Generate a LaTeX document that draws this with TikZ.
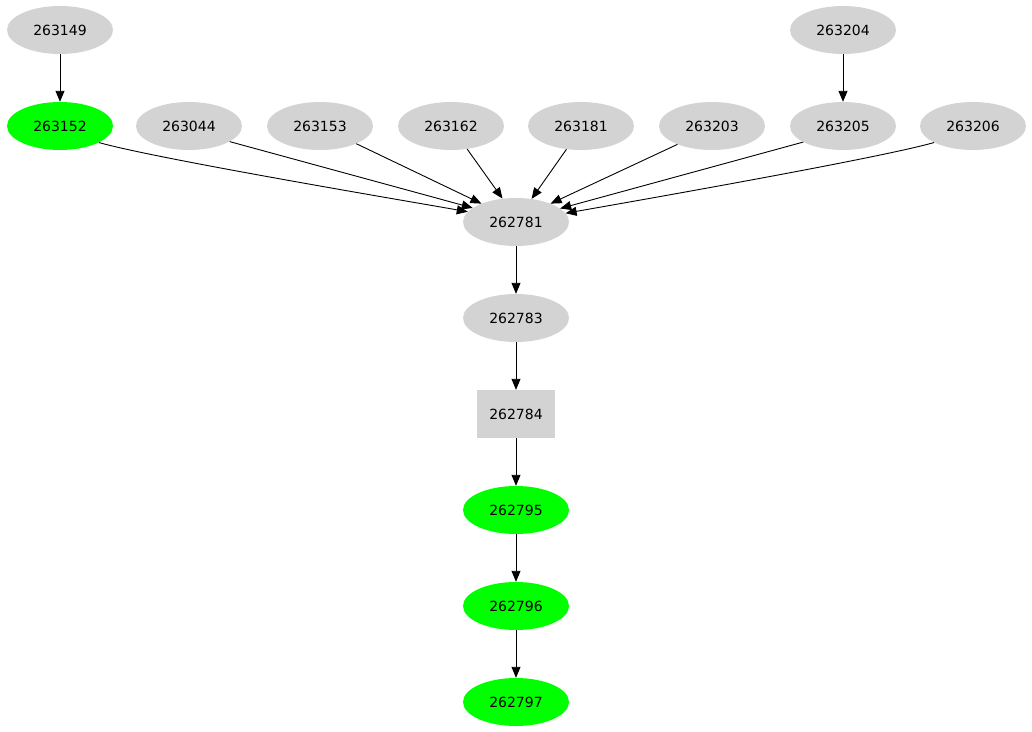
\documentclass[tikz,border=0pt]{standalone}
\usepackage{fontspec}
\setmainfont{DejaVu Sans}
\usetikzlibrary{shapes.geometric,arrows.meta}
\definecolor{gvgray}{HTML}{D3D3D3}
\definecolor{gvgreen}{HTML}{00FF00}
\begin{document}
\begin{tikzpicture}[x=1pt,y=-1pt,
  ell/.style={ellipse,fill=gvgray,draw=none,minimum width=106pt,minimum height=48pt,inner sep=0pt,font=\fontsize{14}{16}\selectfont},
  grn/.style={ell,fill=gvgreen},
  boxn/.style={rectangle,fill=gvgray,draw=none,minimum width=78pt,minimum height=48pt,inner sep=0pt,font=\fontsize{14}{16}\selectfont},
  edge/.style={draw=black,line width=0.9pt,-{Triangle[length=11pt,width=9pt]}}]
\useasboundingbox (0,0) rectangle (1032,731);
\node[ell] (a263149) at (60,30) {263149};
\node[ell] (a263204) at (843,30) {263204};
\node[grn] (a263152) at (60,126) {263152};
\node[ell] (a263044) at (189,126) {263044};
\node[ell] (a263153) at (320,126) {263153};
\node[ell] (a263162) at (451,126) {263162};
\node[ell] (a263181) at (581,126) {263181};
\node[ell] (a263203) at (712,126) {263203};
\node[ell] (a263205) at (843,126) {263205};
\node[ell] (a263206) at (973,126) {263206};
\node[ell] (a262781) at (516,222) {262781};
\node[ell] (a262783) at (516,318) {262783};
\node[boxn] (a262784) at (516,414) {262784};
\node[grn] (a262795) at (516,510) {262795};
\node[grn] (a262796) at (516,606) {262796};
\node[grn] (a262797) at (516,702) {262797};

\draw[edge] (a263149) -- (a263152);
\draw[edge] (a263204) -- (a263205);
\draw[edge] (a263152.-23) to[out=-16,in=170,looseness=0.4] (a262781.168);
\draw[edge] (a263044.-21) -- (a262781.162);
\draw[edge] (a263153.-26) -- (a262781.152);
\draw[edge] (a263162.-55) -- (a262781.120);
\draw[edge] (a263181.-122) -- (a262781.56);
\draw[edge] (a263203.-152) -- (a262781.28);
\draw[edge] (a263205.-158) -- (a262781.17);
\draw[edge] (a263206.-157) to[out=-164,in=10,looseness=0.4] (a262781.10);
\draw[edge] (a262781) -- (a262783);
\draw[edge] (a262783) -- (a262784);
\draw[edge] (a262784) -- (a262795);
\draw[edge] (a262795) -- (a262796);
\draw[edge] (a262796) -- (a262797);
\end{tikzpicture}
\end{document}
